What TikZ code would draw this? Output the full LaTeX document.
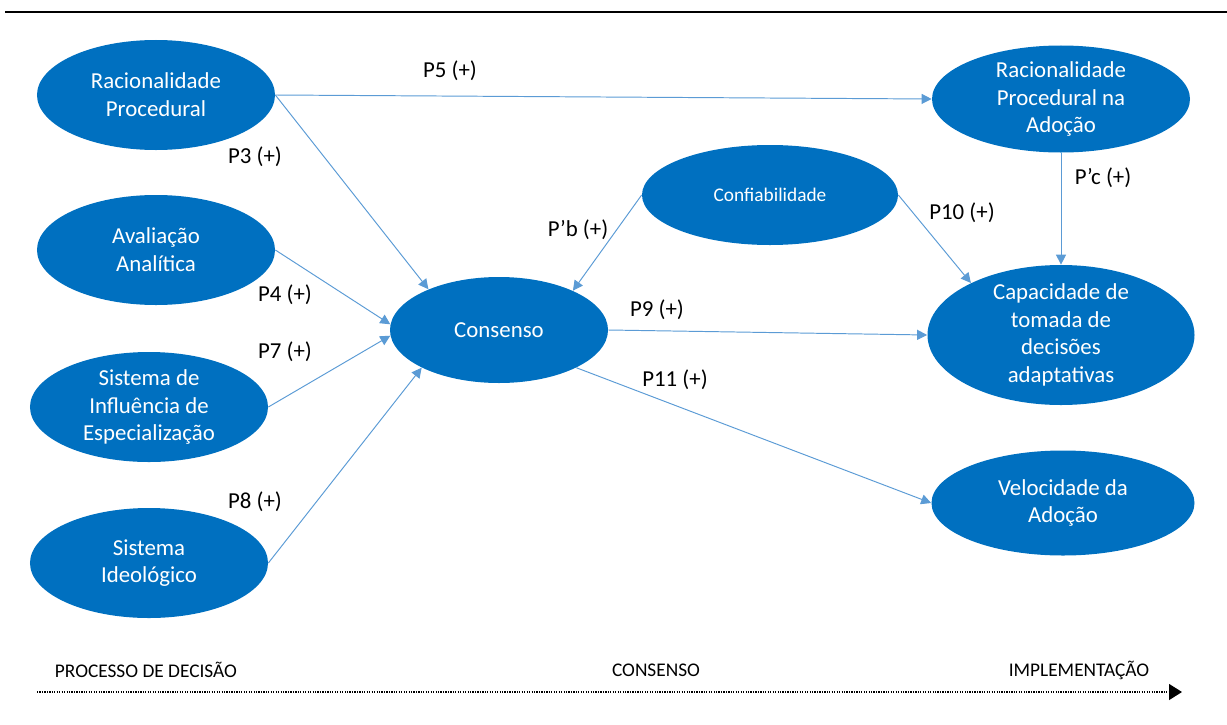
\documentclass[tikz,border=0pt]{standalone}
\usepackage{fontspec}
\setmainfont{Carlito}
\usetikzlibrary{positioning,arrows.meta,shapes.geometric}
\definecolor{figblue}{HTML}{0070C0}
\definecolor{figline}{HTML}{5B9BD5}
\tikzset{
  fig/.style={font=\fontsize{13}{15.8}\selectfont},
  ell/.style={ellipse,fill=figblue,text=white,align=center,inner xsep=0pt,
              inner ysep=-3mm,font=\fontsize{13}{15.8}\selectfont},
  ln/.style={-{Triangle[length=2mm,width=2mm]},figline,line width=0.55pt},
  lbl/.style={font=\fontsize{13}{15.8}\selectfont,inner sep=1pt},
  stage/.style={font=\fontsize{11}{13}\selectfont,inner sep=1pt},
}

\begin{document}
\begin{tikzpicture}[fig,x=0.2mm,y=-0.2mm,
  rule/.style={line width=1.4pt,black},
  timeline/.style={-{Triangle[length=2.6mm,width=3.2mm]},black,line width=0.7pt,
                   dash pattern=on 0.7pt off 0.7pt}]

\useasboundingbox (0,0) rectangle (1227,724);

% ------------------------------------------------ top rule
\coordinate (r0) at (5,12);
\coordinate (r1) at (1227,12);
\draw[rule] (r0) -- (r1);

% ------------------------------------------------ column 1 : decision process
\node[ell,minimum width=47.6mm,minimum height=22mm] (rp)  at (156,95)  {Racionalidade\\Procedural};
\node[ell,minimum width=47.6mm,minimum height=22mm] (aa)  at (156,250) {Avaliação\\Analítica};
\node[ell,minimum width=47.6mm,minimum height=22mm] (sie) at (149,407) {Sistema de\\Influência de\\Especialização};
\node[ell,minimum width=47.6mm,minimum height=22mm] (si)  at (149,563) {Sistema\\Ideológico};

% ------------------------------------------------ column 2 : consensus
\node[ell,minimum width=43.6mm,minimum height=21.2mm] (cons) at (499,330) {Consenso};
\node[ell,minimum width=51.2mm,minimum height=20mm,
      font=\fontsize{11}{13}\selectfont] (conf) at (770,195) {Confiabilidade};

% ------------------------------------------------ column 3 : implementation
\node[ell,minimum width=51.6mm,minimum height=21.4mm] (rpa) at (1061,99)  {Racionalidade\\Procedural na\\Adoção};
\node[ell,minimum width=53.4mm,minimum height=28mm]   (cap) at (1061,335) {Capacidade de\\tomada de\\decisões\\adaptativas};
\node[ell,minimum width=52.6mm,minimum height=21mm]   (vel) at (1063,503) {Velocidade da\\Adoção};

% ------------------------------------------------ connectors
\draw[ln] (rp.east) -- (rpa.west);
\draw[ln] (rp.east) -- (cons.150);
\draw[ln] (aa.east) -- (cons.177);
\draw[ln] (sie.east) -- (cons.183);
\draw[ln] (si.east) -- (cons.206);
\draw[ln] (conf.west) -- (cons.28);
\draw[ln] (conf.east) -- (cap.150);
\draw[ln] (rpa.south) -- (cap.north);
\draw[ln] (cons.east) -- (cap.west);
\draw[ln] (cons.-26) -- (vel.west);

% ------------------------------------------------ labels
\node[lbl] (p5)  at (450,71)  {P5 (+)};
\node[lbl] (p3)  at (255,157) {P3 (+)};
\node[lbl] (p4)  at (285,295) {P4 (+)};
\node[lbl] (p7)  at (285,352) {P7 (+)};
\node[lbl] (p8)  at (255,502) {P8 (+)};
\node[lbl] (pb)  at (578,230) {P’b (+)};
\node[lbl] (p10) at (962,213) {P10 (+)};
\node[lbl] (pc)  at (1103,178) {P’c (+)};
\node[lbl] (p9)  at (657,310) {P9 (+)};
\node[lbl] (p11) at (675,380) {P11 (+)};

% ------------------------------------------------ timeline
\node[stage] (st1) at (146,670)  {PROCESSO DE DECISÃO};
\node[stage] (st2) at (656,670)  {CONSENSO};
\node[stage] (st3) at (1079,670) {IMPLEMENTAÇÃO};
\coordinate (tl0) at (37,692);
\coordinate (tl1) at (1182,692);
\draw[timeline] (tl0) -- (tl1);

\end{tikzpicture}
\end{document}
